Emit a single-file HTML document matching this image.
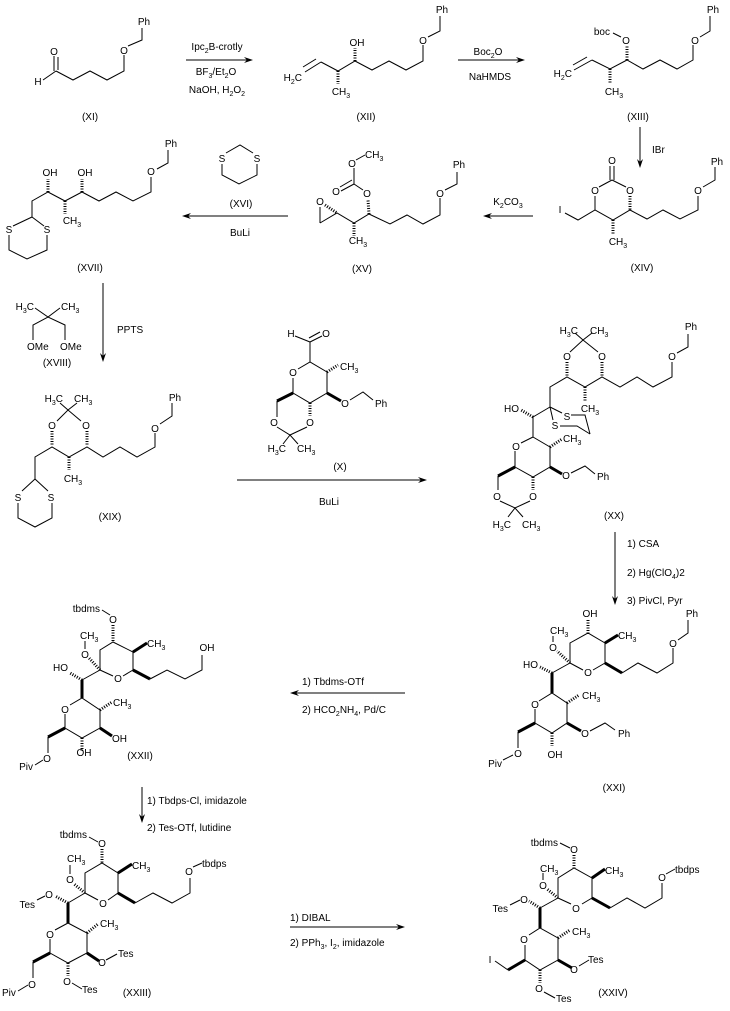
<!DOCTYPE html>
<html><head><meta charset="utf-8"><style>
html,body{margin:0;padding:0;background:#fff;}
svg{display:block;}
line,polyline{stroke:#000;stroke-width:1;fill:none;}
.h{stroke-width:3;stroke-dasharray:1 1.5;}
.w{stroke-width:3;}
text{font-family:"Liberation Sans",Arial,sans-serif;font-size:10px;fill:#000;}
.m{text-anchor:middle;}
.e{text-anchor:end;}
.a{fill:#000;stroke:none;}
</style></head><body>
<svg width="730" height="1011" viewBox="0 0 730 1011" xmlns="http://www.w3.org/2000/svg">

<!-- XI -->
<line x1="43" y1="80" x2="56" y2="71"/>
<line x1="54" y1="56" x2="54" y2="71"/><line x1="58" y1="57" x2="58" y2="70"/>
<polyline points="56,71 73,80 90,71 107,80 124,71 124,55"/>
<polyline points="128,46 142,40 142,28"/>
<text class="m" x="54" y="55">O</text>
<text class="m" x="38" y="85">H</text>
<text class="m" x="124" y="54">O</text>
<text class="m" x="144" y="25">Ph</text>
<text class="m" x="90" y="120">(XI)</text>

<!-- arrow 1 -->
<line x1="186" y1="60" x2="248" y2="60"/>
<polygon class="a" points="253,60 244,57 247,60 244,63"/>
<text class="m" x="217" y="50">Ipc<tspan font-size="7" dy="3">2</tspan><tspan dy="-3">B-crotly</tspan></text>
<text class="m" x="216" y="75">BF<tspan font-size="7" dy="3">3</tspan><tspan dy="-3">/Et</tspan><tspan font-size="7" dy="3">2</tspan><tspan dy="-3">O</tspan></text>
<text class="m" x="217" y="93">NaOH, H<tspan font-size="7" dy="3">2</tspan><tspan dy="-3">O</tspan><tspan font-size="7" dy="3">2</tspan></text>

<!-- XII -->
<text class="e" x="302" y="81">H<tspan font-size="7" dy="3">2</tspan><tspan dy="-3">C</tspan></text>
<line x1="305" y1="72" x2="321" y2="62"/><line x1="303" y1="67" x2="316" y2="59"/>
<polyline points="321,62 338,71 355,61 372,70 389,61 406,70 423,61 423,45"/>
<line class="h" x1="338" y1="71" x2="338" y2="84"/>
<line class="h" x1="355" y1="61" x2="355" y2="48"/>
<text class="m" x="341" y="95">CH<tspan font-size="7" dy="3">3</tspan></text>
<text class="m" x="357" y="46">OH</text>
<text class="m" x="423" y="44">O</text>
<polyline points="428,37 440,31 440,16"/>
<text class="m" x="442" y="13">Ph</text>
<text class="m" x="366" y="120">(XII)</text>

<!-- arrow 2 -->
<line x1="458" y1="60" x2="520" y2="60"/>
<polygon class="a" points="525,60 516,57 519,60 516,63"/>
<text class="m" x="488" y="55">Boc<tspan font-size="7" dy="3">2</tspan><tspan dy="-3">O</tspan></text>
<text class="m" x="490" y="80">NaHMDS</text>

<!-- XIII -->
<text class="e" x="572" y="77">H<tspan font-size="7" dy="3">2</tspan><tspan dy="-3">C</tspan></text>
<line x1="574" y1="70" x2="592" y2="60"/><line x1="573" y1="65" x2="587" y2="57"/>
<polyline points="592,60 610,69 627,60 643,69 660,60 677,69 693,60 693,45"/>
<line class="h" x1="610" y1="69" x2="610" y2="83"/>
<line class="h" x1="627" y1="60" x2="627" y2="46"/>
<text class="m" x="614" y="95">CH<tspan font-size="7" dy="3">3</tspan></text>
<text class="m" x="626" y="44">O</text>
<text class="e" x="610" y="35">boc</text>
<line x1="613" y1="33" x2="621" y2="37"/>
<text class="m" x="695" y="44">O</text>
<polyline points="700,37 710,31 710,16"/>
<text class="m" x="713" y="13">Ph</text>
<text class="m" x="638" y="120">(XIII)</text>

<!-- arrow down IBr -->
<line x1="640" y1="127" x2="640" y2="163"/>
<polygon class="a" points="640,168 637,159 640,162 643,159"/>
<text x="652" y="153">IBr</text>

<!-- XIV -->
<text class="m" x="612" y="164">O</text>
<line x1="610" y1="166" x2="610" y2="180"/><line x1="614" y1="166" x2="614" y2="180"/>
<line x1="612" y1="180" x2="599" y2="187"/><line x1="612" y1="180" x2="626" y2="187"/>
<text class="m" x="595" y="194">O</text>
<text class="m" x="630" y="194">O</text>
<line x1="595" y1="196" x2="595" y2="210"/>
<line class="h" x1="630" y1="196" x2="630" y2="210"/>
<polyline points="565,213 578,220 595,210 613,220 630,210 647,219 663,210 680,219 698,210 698,196"/>
<line class="h" x1="613" y1="220" x2="613" y2="235"/>
<text class="m" x="560" y="213">I</text>
<text class="m" x="618" y="245">CH<tspan font-size="7" dy="3">3</tspan></text>
<text class="m" x="698" y="194">O</text>
<polyline points="703,187 715,180 715,167"/>
<text class="m" x="717" y="165">Ph</text>
<text class="m" x="642" y="271">(XIV)</text>

<!-- arrow K2CO3 -->
<line x1="488" y1="216" x2="533" y2="216"/>
<polygon class="a" points="483,216 492,213 489,216 492,219"/>
<text class="m" x="508" y="205">K<tspan font-size="7" dy="3">2</tspan><tspan dy="-3">CO</tspan><tspan font-size="7" dy="3">3</tspan></text>

<!-- XV -->
<text class="m" x="352" y="167">O</text>
<line x1="356" y1="160" x2="365" y2="155"/>
<text x="365" y="158">CH<tspan font-size="7" dy="3">3</tspan></text>
<line x1="354" y1="168" x2="354" y2="184"/>
<line x1="354" y1="184" x2="341" y2="191"/><line x1="352" y1="180" x2="340" y2="187"/>
<text class="m" x="336" y="195">O</text>
<line x1="354" y1="184" x2="363" y2="190"/>
<text class="m" x="367" y="197">O</text>
<line class="h" x1="369" y1="214" x2="368" y2="200"/>
<text class="m" x="320" y="205">O</text>
<line x1="320" y1="207" x2="320" y2="223"/>
<line class="h" x1="325" y1="205" x2="337" y2="213"/>
<polyline points="320,223 337,213 354,223 369,214 390,224 407,215 423,224 440,215 440,198"/>
<line class="h" x1="354" y1="223" x2="354" y2="236"/>
<text class="m" x="358" y="244">CH<tspan font-size="7" dy="3">3</tspan></text>
<text class="m" x="440" y="197">O</text>
<polyline points="445,190 457,184 457,172"/>
<text class="m" x="459" y="168">Ph</text>
<text class="m" x="362" y="272">(XV)</text>

<!-- XVI -->
<text class="m" x="222" y="162">S</text>
<text class="m" x="257" y="162">S</text>
<polyline points="226,153 240,145 253,153"/>
<polyline points="222,164 222,175 239,184 257,175 257,164"/>
<text class="m" x="241" y="207">(XVI)</text>

<!-- arrow BuLi -->
<line x1="187" y1="216" x2="288" y2="216"/>
<polygon class="a" points="182,216 191,213 188,216 191,219"/>
<text class="m" x="240" y="236">BuLi</text>

<!-- XVII -->
<text class="m" x="171" y="147">Ph</text>
<polyline points="168,150 168,163 157,169"/>
<text class="m" x="151" y="175">O</text>
<polyline points="151,177 151,192 133,201 116,192 99,201 82,192 65,201 48,192 32,201 32,217"/>
<line class="h" x1="82" y1="192" x2="82" y2="179"/>
<line class="h" x1="65" y1="201" x2="65" y2="214"/>
<line class="h" x1="48" y1="192" x2="48" y2="179"/>
<text class="m" x="85" y="176">OH</text>
<text class="m" x="50" y="176">OH</text>
<text class="m" x="72" y="224">CH<tspan font-size="7" dy="3">3</tspan></text>
<line x1="32" y1="217" x2="13" y2="226"/><line x1="32" y1="217" x2="44" y2="226"/>
<text class="m" x="9" y="233">S</text>
<text class="m" x="47" y="233">S</text>
<polyline points="9,235 9,250 27,259 47,250 47,235"/>
<text class="m" x="90" y="271">(XVII)</text>

<!-- arrow PPTS -->
<line x1="103" y1="283" x2="103" y2="357"/>
<polygon class="a" points="103,362 100,353 103,356 106,353"/>
<text x="117" y="333">PPTS</text>

<!-- XVIII -->
<text class="e" x="34" y="310">H<tspan font-size="7" dy="3">3</tspan><tspan dy="-3">C</tspan></text>
<text x="61" y="310">CH<tspan font-size="7" dy="3">3</tspan></text>
<polyline points="35,308 48,317 60,308"/>
<polyline points="33,340 33,325 48,317 65,325 65,340"/>
<text x="27" y="350">OMe</text>
<text x="60" y="350">OMe</text>
<text class="m" x="57" y="366">(XVIII)</text>

<!-- XIX -->
<text class="e" x="63" y="402">H<tspan font-size="7" dy="3">3</tspan><tspan dy="-3">C</tspan></text>
<text x="74" y="402">CH<tspan font-size="7" dy="3">3</tspan></text>
<polyline points="60,403 68,410 77,403"/>
<polyline points="57,421 68,410 81,421"/>
<text class="m" x="52" y="429">O</text>
<text class="m" x="86" y="429">O</text>
<line class="h" x1="52" y1="431" x2="52" y2="446"/>
<line class="h" x1="87" y1="431" x2="87" y2="446"/>
<polyline points="35,479 35,457 52,447 69,457 87,447 103,457 120,447 137,457 155,447 155,433"/>
<line class="h" x1="69" y1="457" x2="69" y2="470"/>
<text class="m" x="73" y="482">CH<tspan font-size="7" dy="3">3</tspan></text>
<text class="m" x="155" y="432">O</text>
<polyline points="160,424 172,416 172,403"/>
<text class="m" x="175" y="401">Ph</text>
<line x1="35" y1="479" x2="22" y2="491"/><line x1="35" y1="479" x2="48" y2="491"/>
<text class="m" x="18" y="501">S</text>
<text class="m" x="51" y="501">S</text>
<polyline points="18,503 18,518 35,527 52,518 52,503"/>
<text class="m" x="110" y="520">(XIX)</text>

<!-- X -->
<text class="m" x="291" y="337">H</text>
<text class="m" x="326" y="337">O</text>
<line x1="295" y1="336" x2="310" y2="342"/>
<line x1="310" y1="342" x2="322" y2="336"/><line x1="309" y1="338" x2="320" y2="332"/>
<line x1="310" y1="342" x2="310" y2="362"/>
<text class="m" x="293" y="376">O</text>
<polyline points="298,369 310,362 327,372 327,393 310,403 293,393 293,378"/>
<line class="h" x1="327" y1="372" x2="338" y2="365"/>
<text x="340" y="370">CH<tspan font-size="7" dy="3">3</tspan></text>
<line class="w" x1="327" y1="393" x2="341" y2="401"/>
<text class="m" x="345" y="407">O</text>
<polyline points="350,400 363,392 373,400"/>
<text x="375" y="407">Ph</text>
<line class="h" x1="310" y1="403" x2="310" y2="416"/>
<text class="m" x="310" y="426">O</text>
<line class="w" x1="293" y1="393" x2="277" y2="401"/>
<line x1="277" y1="401" x2="277" y2="417"/>
<text class="m" x="274" y="426">O</text>
<polyline points="277,427 290,435 307,427"/>
<polyline points="283,444 290,435 298,444"/>
<text class="e" x="286" y="452">H<tspan font-size="7" dy="3">3</tspan><tspan dy="-3">C</tspan></text>
<text x="297" y="452">CH<tspan font-size="7" dy="3">3</tspan></text>
<text class="m" x="340" y="470">(X)</text>

<!-- arrow X -->
<line x1="237" y1="480" x2="422" y2="480"/>
<polygon class="a" points="427,480 418,477 421,480 418,483"/>
<text class="m" x="329" y="505">BuLi</text>

<!-- XX -->
<text class="e" x="578" y="334">H<tspan font-size="7" dy="3">3</tspan><tspan dy="-3">C</tspan></text>
<text x="590" y="334">CH<tspan font-size="7" dy="3">3</tspan></text>
<polyline points="575,333 583,340 592,333"/>
<polyline points="570,352 583,340 598,352"/>
<text class="m" x="567" y="360">O</text>
<text class="m" x="602" y="360">O</text>
<line class="h" x1="567" y1="362" x2="567" y2="376"/>
<line class="h" x1="602" y1="362" x2="602" y2="376"/>
<polyline points="550,407 550,387 567,377 585,387 602,377 620,387 637,377 653,387 672,377 672,362"/>
<line class="h" x1="585" y1="387" x2="585" y2="401"/>
<text class="m" x="590" y="412">CH<tspan font-size="7" dy="3">3</tspan></text>
<text class="m" x="672" y="360">O</text>
<polyline points="677,353 688,347 688,334"/>
<text class="m" x="691" y="330">Ph</text>
<line x1="550" y1="407" x2="562" y2="413"/>
<line x1="550" y1="407" x2="553" y2="420"/>
<text class="m" x="567" y="420">S</text>
<text class="m" x="555" y="429">S</text>
<polyline points="571,415 585,415 590,434"/>
<polyline points="560,426 577,426 590,434"/>
<line x1="550" y1="407" x2="533" y2="417"/>
<line class="h" x1="533" y1="417" x2="521" y2="410"/>
<text class="e" x="519" y="412">HO</text>
<polyline points="533,417 533,437 550,447 550,467 533,477 515,467 515,451"/>
<line x1="533" y1="437" x2="521" y2="443"/>
<text class="m" x="516" y="450">O</text>
<line class="h" x1="550" y1="447" x2="562" y2="439"/>
<text x="563" y="442">CH<tspan font-size="7" dy="3">3</tspan></text>
<line class="w" x1="550" y1="467" x2="562" y2="474"/>
<text class="m" x="566" y="479">O</text>
<polyline points="571,473 585,466 595,474"/>
<text x="597" y="480">Ph</text>
<line class="h" x1="533" y1="477" x2="533" y2="490"/>
<text class="m" x="533" y="500">O</text>
<line class="w" x1="515" y1="467" x2="498" y2="476"/>
<line x1="498" y1="476" x2="498" y2="490"/>
<text class="m" x="497" y="500">O</text>
<polyline points="500,501 515,508 530,501"/>
<polyline points="508,517 515,508 523,517"/>
<text class="e" x="511" y="528">H<tspan font-size="7" dy="3">3</tspan><tspan dy="-3">C</tspan></text>
<text x="522" y="528">CH<tspan font-size="7" dy="3">3</tspan></text>
<text class="m" x="614" y="519">(XX)</text>

<!-- arrow XX -> XXI -->
<line x1="615" y1="532" x2="615" y2="600"/>
<polygon class="a" points="615,605 612,596 615,599 618,596"/>
<text x="627" y="547">1) CSA</text>
<text x="627" y="576">2) Hg(ClO<tspan font-size="7" dy="3">4</tspan><tspan dy="-3">)2</tspan></text>
<text x="627" y="604">3) PivCl, Pyr</text>

<!-- XXI -->
<text class="m" x="590" y="617">OH</text>
<line class="h" x1="588" y1="620" x2="588" y2="633"/>
<polyline points="570,663 570,643 588,633 605,643 605,663 593,670"/>
<line x1="583" y1="670" x2="570" y2="663"/>
<text class="m" x="588" y="676">O</text>
<line class="w" x1="605" y1="643" x2="618" y2="635"/>
<text x="618" y="639">CH<tspan font-size="7" dy="3">3</tspan></text>
<line class="w" x1="605" y1="663" x2="622" y2="673"/>
<polyline points="622,673 638,663 657,673 673,663 673,648"/>
<text class="m" x="673" y="647">O</text>
<polyline points="678,640 688,633 688,620"/>
<text class="m" x="692" y="617">Ph</text>
<line class="h" x1="570" y1="663" x2="557" y2="651"/>
<text class="m" x="553" y="651">O</text>
<line x1="553" y1="642" x2="553" y2="636"/>
<text x="550" y="634">CH<tspan font-size="7" dy="3">3</tspan></text>
<line x1="570" y1="663" x2="552" y2="673"/>
<line class="h" x1="552" y1="673" x2="540" y2="667"/>
<text class="e" x="538" y="668">HO</text>
<line class="w" x1="552" y1="673" x2="552" y2="693"/>
<polyline points="539,701 552,693 567,703 567,723 552,733 535,723 535,709"/>
<text class="m" x="535" y="708">O</text>
<line class="h" x1="567" y1="703" x2="579" y2="695"/>
<text x="582" y="699">CH<tspan font-size="7" dy="3">3</tspan></text>
<line class="w" x1="567" y1="723" x2="581" y2="731"/>
<text class="m" x="585" y="737">O</text>
<polyline points="590,731 605,723 615,730"/>
<text x="618" y="737">Ph</text>
<line class="h" x1="552" y1="733" x2="552" y2="746"/>
<text class="m" x="555" y="758">OH</text>
<line class="w" x1="535" y1="723" x2="518" y2="732"/>
<line x1="518" y1="732" x2="518" y2="748"/>
<text class="m" x="518" y="757">O</text>
<line x1="503" y1="760" x2="513" y2="755"/>
<text class="e" x="502" y="767">Piv</text>
<text class="m" x="614" y="791">(XXI)</text>

<!-- arrow XXI -> XXII -->
<line x1="295" y1="693" x2="405" y2="693"/>
<polygon class="a" points="290,693 299,690 296,693 299,696"/>
<text x="302" y="685">1)  Tbdms-OTf</text>
<text x="302" y="713">2)  HCO<tspan font-size="7" dy="3">2</tspan><tspan dy="-3">NH</tspan><tspan font-size="7" dy="3">4</tspan><tspan dy="-3">,  Pd/C</tspan></text>

<!-- XXII -->
<text class="e" x="100" y="612">tbdms</text>
<line x1="102" y1="610" x2="110" y2="615"/>
<text class="m" x="113" y="623">O</text>
<line class="h" x1="113" y1="625" x2="113" y2="641"/>
<polyline points="100,670 100,650 113,642 133,652 133,670 123,676"/>
<line x1="113" y1="676" x2="100" y2="670"/>
<text class="m" x="118" y="682">O</text>
<line class="w" x1="133" y1="652" x2="147" y2="643"/>
<text x="147" y="647">CH<tspan font-size="7" dy="3">3</tspan></text>
<line class="w" x1="133" y1="670" x2="150" y2="679"/>
<polyline points="150,679 167,670 185,679 202,670 202,655"/>
<text class="m" x="207" y="651">OH</text>
<line class="h" x1="100" y1="670" x2="89" y2="658"/>
<text class="m" x="85" y="658">O</text>
<line x1="85" y1="649" x2="85" y2="641"/>
<text x="80" y="639">CH<tspan font-size="7" dy="3">3</tspan></text>
<line x1="100" y1="670" x2="82" y2="680"/>
<line class="h" x1="82" y1="680" x2="70" y2="673"/>
<text class="e" x="68" y="671">HO</text>
<line class="w" x1="82" y1="680" x2="82" y2="698"/>
<polyline points="70,705 82,698 100,710 100,728 82,738 65,728 65,714"/>
<text class="m" x="65" y="713">O</text>
<line class="h" x1="100" y1="710" x2="112" y2="702"/>
<text x="113" y="706">CH<tspan font-size="7" dy="3">3</tspan></text>
<line class="w" x1="100" y1="728" x2="112" y2="736"/>
<text x="112" y="742">OH</text>
<line class="h" x1="82" y1="738" x2="82" y2="751"/>
<text class="m" x="84" y="756">OH</text>
<line class="w" x1="65" y1="728" x2="48" y2="737"/>
<line x1="48" y1="737" x2="48" y2="753"/>
<text class="m" x="47" y="762">O</text>
<line x1="35" y1="765" x2="43" y2="760"/>
<text class="e" x="33" y="770">Piv</text>
<text class="m" x="140" y="759">(XXII)</text>

<!-- arrow XXII -> XXIII -->
<line x1="142" y1="787" x2="142" y2="818"/>
<polygon class="a" points="142,823 139,814 142,817 145,814"/>
<text x="147" y="804">1) Tbdps-Cl, imidazole</text>
<text x="147" y="831">2) Tes-OTf, lutidine</text>

<!-- XXIII -->
<text class="e" x="87" y="838">tbdms</text>
<line x1="89" y1="837" x2="98" y2="842"/>
<text class="m" x="102" y="847">O</text>
<line class="h" x1="102" y1="849" x2="102" y2="863"/>
<polyline points="85,893 85,873 102,863 118,873 118,893 108,900"/>
<line x1="98" y1="900" x2="85" y2="893"/>
<text class="m" x="103" y="907">O</text>
<line class="w" x1="118" y1="873" x2="132" y2="864"/>
<text x="132" y="869">CH<tspan font-size="7" dy="3">3</tspan></text>
<line class="w" x1="118" y1="893" x2="135" y2="903"/>
<polyline points="135,903 153,893 172,903 190,893 190,878"/>
<text class="m" x="189" y="875">O</text>
<line x1="193" y1="867" x2="202" y2="863"/>
<text x="202" y="867">tbdps</text>
<line class="h" x1="85" y1="893" x2="74" y2="884"/>
<text class="m" x="70" y="883">O</text>
<line x1="70" y1="874" x2="70" y2="865"/>
<text x="67" y="862">CH<tspan font-size="7" dy="3">3</tspan></text>
<line x1="85" y1="893" x2="68" y2="903"/>
<line class="h" x1="68" y1="903" x2="55" y2="896"/>
<text class="m" x="49" y="898">O</text>
<line x1="37" y1="900" x2="45" y2="896"/>
<text class="e" x="35" y="908">Tes</text>
<line class="w" x1="68" y1="903" x2="68" y2="923"/>
<polyline points="55,930 68,923 87,933 87,953 68,963 50,953 50,939"/>
<text class="m" x="50" y="938">O</text>
<line class="h" x1="87" y1="933" x2="98" y2="924"/>
<text x="100" y="927">CH<tspan font-size="7" dy="3">3</tspan></text>
<line class="w" x1="87" y1="953" x2="99" y2="961"/>
<text class="m" x="102" y="966">O</text>
<line x1="106" y1="960" x2="117" y2="954"/>
<text x="118" y="957">Tes</text>
<line class="h" x1="68" y1="963" x2="68" y2="976"/>
<text class="m" x="67" y="985">O</text>
<line x1="72" y1="983" x2="82" y2="989"/>
<text x="82" y="993">Tes</text>
<line class="w" x1="50" y1="953" x2="33" y2="962"/>
<line x1="33" y1="962" x2="33" y2="978"/>
<text class="m" x="32" y="988">O</text>
<line x1="18" y1="991" x2="28" y2="985"/>
<text x="2" y="996">Piv</text>
<text class="m" x="137" y="996">(XXIII)</text>

<!-- arrow XXIII -> XXIV -->
<line x1="290" y1="927" x2="400" y2="927"/>
<polygon class="a" points="405,927 396,924 399,927 396,930"/>
<text x="290" y="921">1) DIBAL</text>
<text x="290" y="946">2) PPh<tspan font-size="7" dy="3">3</tspan><tspan dy="-3">, I</tspan><tspan font-size="7" dy="3">2</tspan><tspan dy="-3">, imidazole</tspan></text>

<!-- XXIV -->
<text class="e" x="558" y="846">tbdms</text>
<line x1="560" y1="843" x2="570" y2="848"/>
<text class="m" x="574" y="853">O</text>
<line class="h" x1="574" y1="855" x2="574" y2="868"/>
<polyline points="558,898 558,878 574,868 592,878 592,898 582,904"/>
<line x1="571" y1="904" x2="558" y2="898"/>
<text class="m" x="576" y="912">O</text>
<line class="w" x1="592" y1="878" x2="605" y2="869"/>
<text x="605" y="874">CH<tspan font-size="7" dy="3">3</tspan></text>
<line class="w" x1="592" y1="898" x2="610" y2="908"/>
<polyline points="610,908 627,898 645,908 662,898 662,883"/>
<text class="m" x="662" y="881">O</text>
<line x1="666" y1="874" x2="675" y2="869"/>
<text x="675" y="873">tbdps</text>
<line class="h" x1="558" y1="898" x2="547" y2="889"/>
<text class="m" x="543" y="889">O</text>
<line x1="543" y1="880" x2="543" y2="873"/>
<text x="540" y="872">CH<tspan font-size="7" dy="3">3</tspan></text>
<line x1="558" y1="898" x2="540" y2="908"/>
<line class="h" x1="540" y1="908" x2="529" y2="901"/>
<text class="m" x="524" y="903">O</text>
<line x1="510" y1="905" x2="520" y2="900"/>
<text class="e" x="508" y="912">Tes</text>
<line class="w" x1="540" y1="908" x2="540" y2="928"/>
<polyline points="529,935 540,928 558,938 558,960 540,970 525,960 525,945"/>
<text class="m" x="524" y="943">O</text>
<line class="h" x1="558" y1="938" x2="570" y2="930"/>
<text x="572" y="935">CH<tspan font-size="7" dy="3">3</tspan></text>
<line class="w" x1="558" y1="960" x2="572" y2="968"/>
<text class="m" x="574" y="973">O</text>
<line x1="579" y1="966" x2="589" y2="960"/>
<text x="588" y="963">Tes</text>
<line class="h" x1="540" y1="970" x2="540" y2="983"/>
<text class="m" x="539" y="992">O</text>
<line x1="544" y1="992" x2="555" y2="998"/>
<text x="556" y="1002">Tes</text>
<line class="w" x1="525" y1="960" x2="508" y2="970"/>
<line x1="508" y1="970" x2="495" y2="961"/>
<text class="m" x="490" y="963">I</text>
<text class="m" x="613" y="996">(XXIV)</text>

</svg>
</body></html>
